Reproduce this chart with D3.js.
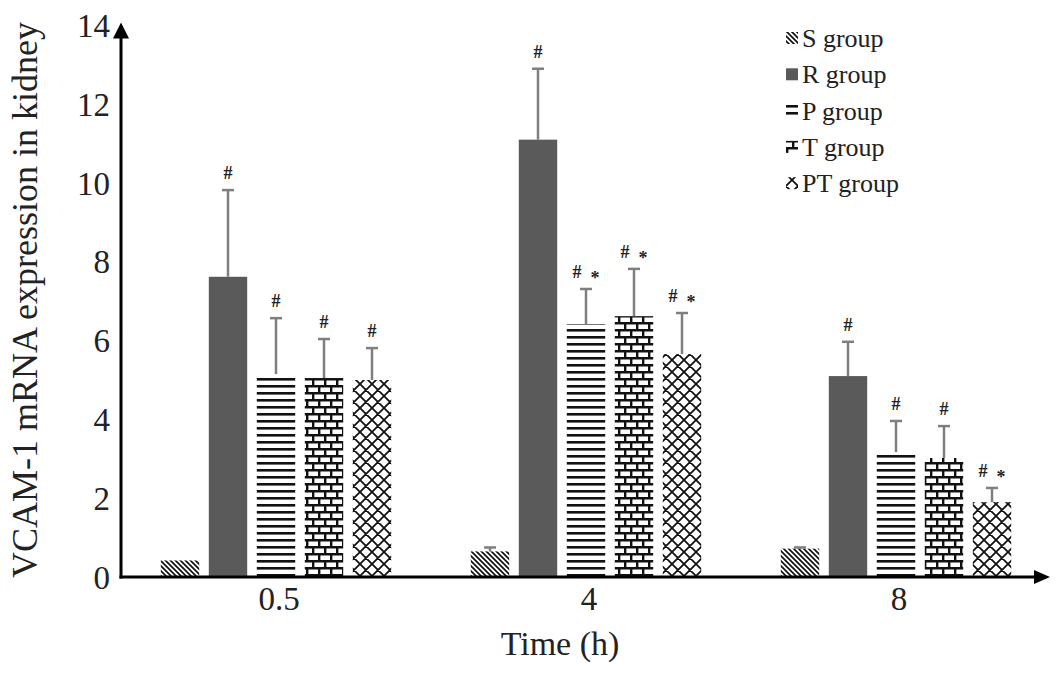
<!DOCTYPE html>
<html><head><meta charset="utf-8">
<script src="https://cdn.jsdelivr.net/npm/d3@7"></script>
<style>body{margin:0;background:#fff}svg{display:block}text{font-family:"Liberation Serif","Times New Roman",serif;fill:#222}</style>
</head><body><svg id="c" width="1063" height="681"></svg>
<script>
const times = ["0.5", "4", "8"];
const groups = ["S group", "R group", "P group", "T group", "PT group"];
const means = {
  "S group":  [0.42, 0.65, 0.72],
  "R group":  [7.62, 11.1, 5.1],
  "P group":  [5.15, 6.42, 3.17],
  "T group":  [5.05, 6.62, 3.02],
  "PT group": [5.0, 5.66, 1.90]
};
const sds = {
  "S group":  [0.0, 0.1, 0.03],
  "R group":  [2.2, 1.8, 0.87],
  "P group":  [1.42, 0.89, 0.79],
  "T group":  [0.99, 1.2, 0.81],
  "PT group": [0.81, 1.04, 0.36]
};
const marks = {
  "S group":  ["", "", ""],
  "R group":  ["#", "#", "#"],
  "P group":  ["#", "#*", "#"],
  "T group":  ["#", "#*", "#"],
  "PT group": ["#", "#*", "#*"]
};
const yTicks = [0, 2, 4, 6, 8, 10, 12, 14];

const svg = d3.select("#c");
const y = d3.scaleLinear().domain([0, 14]).range([577, 25.4]);
const x0 = d3.scaleBand().domain(times).range([121, 1051]);
const x1 = d3.scaleBand().domain(groups).range([35, 275]).paddingInner(0.2).paddingOuter(0.1);

const defs = svg.append("defs");
const pd = defs.append("pattern").attr("id","p-S").attr("patternUnits","userSpaceOnUse").attr("width",5).attr("height",5);
pd.append("rect").attr("width",5).attr("height",5).attr("fill","#fff");
pd.append("path").attr("d","M0,0L5,5M-1,4L1,6M4,-1L6,1").attr("stroke","#111").attr("stroke-width",1.7);
const ph = defs.append("pattern").attr("id","p-P").attr("patternUnits","userSpaceOnUse").attr("width",10).attr("height",7);
ph.append("rect").attr("width",10).attr("height",7).attr("fill","#fff");
ph.append("rect").attr("y",0).attr("width",10).attr("height",2.6).attr("fill","#111");
const pb = defs.append("pattern").attr("id","p-T").attr("patternUnits","userSpaceOnUse").attr("width",12).attr("height",14);
pb.append("rect").attr("width",12).attr("height",14).attr("fill","#fff");
pb.append("rect").attr("y",0).attr("width",12).attr("height",2.5).attr("fill","#111");
pb.append("rect").attr("y",7).attr("width",12).attr("height",2.5).attr("fill","#111");
pb.append("rect").attr("x",0).attr("y",0).attr("width",2.4).attr("height",7).attr("fill","#111");
pb.append("rect").attr("x",6).attr("y",7).attr("width",2.4).attr("height",7).attr("fill","#111");
const px = defs.append("pattern").attr("id","p-PT").attr("patternUnits","userSpaceOnUse").attr("width",12).attr("height",12);
px.append("rect").attr("width",12).attr("height",12).attr("fill","#fff");
px.append("path").attr("d","M0,0L12,12M12,0L0,12M-1,11L1,13M11,-1L13,1M-1,1L1,-1M11,13L13,11").attr("stroke","#111").attr("stroke-width",1.8);

const fills = {"S group":"url(#p-S)","R group":"#5a5a5a","P group":"url(#p-P)","T group":"url(#p-T)","PT group":"url(#p-PT)"};

const data = [];
times.forEach((t, i) => groups.forEach(g => data.push({t, g, v: means[g][i], sd: sds[g][i], m: marks[g][i]})));

const bx = d => x0(d.t) + x1(d.g);
const bw = x1.bandwidth();

svg.append("g").selectAll("rect").data(data).join("rect")
  .attr("x", bx).attr("y", d => y(d.v)).attr("width", bw)
  .attr("height", d => y(0) - y(d.v)).attr("fill", d => fills[d.g]);

const eb = svg.append("g").attr("stroke","#7f7f7f").attr("stroke-width",2.5);
data.filter(d => d.sd > 0).forEach(d => {
  const cx = bx(d) + bw/2;
  eb.append("line").attr("x1",cx).attr("x2",cx).attr("y1",y(d.v)).attr("y2",y(d.v+d.sd));
  eb.append("line").attr("x1",cx-6).attr("x2",cx+6).attr("y1",y(d.v+d.sd)).attr("y2",y(d.v+d.sd));
});

const mg = svg.append("g").attr("font-size",18).attr("font-weight","bold").attr("text-anchor","middle");
data.filter(d => d.m).forEach(d => {
  const cx = bx(d) + bw/2;
  const yy = y(d.v + d.sd) - 11;
  const chars = d.m.split("");
  chars.forEach((c, k) => {
    const off = chars.length === 1 ? 0 : (k === 0 ? -9 : 9);
    mg.append("text").attr("x", cx + off).attr("y", yy + (c === "*" ? 6 : 0)).attr("fill","#3a3a3a").text(c);
  });
});

// axes
const ax = svg.append("g");
ax.append("line").attr("x1",121).attr("x2",121).attr("y1",y(0)+1.5).attr("y2",y(14)+8).attr("stroke","#000").attr("stroke-width",3);
ax.append("path").attr("d",`M121,${y(14)-3}L113,${y(14)+13}L129,${y(14)+13}Z`).attr("fill","#000");
ax.append("line").attr("x1",119.5).attr("x2",1040).attr("y1",y(0)).attr("y2",y(0)).attr("stroke","#000").attr("stroke-width",3);
ax.append("path").attr("d",`M1050,${y(0)}L1034,${y(0)-7}L1034,${y(0)+7}Z`).attr("fill","#000");

ax.selectAll(".yt").data(yTicks).join("text").attr("class","yt")
  .attr("x",110).attr("y", d => y(d)).attr("dy","0.35em").attr("text-anchor","end")
  .attr("font-size",33).text(d => d);
ax.selectAll(".xt").data(times).join("text").attr("class","xt")
  .attr("x", d => x0(d) + x0.bandwidth()/2 + 3).attr("y", 610).attr("text-anchor","middle")
  .attr("font-size",33).text(d => d);

svg.append("text").attr("x",560).attr("y",655).attr("text-anchor","middle").attr("font-size",34).text("Time (h)");
svg.append("text").attr("transform","translate(37,300) rotate(-90)").attr("text-anchor","middle").attr("font-size",36).text("VCAM-1 mRNA expression in kidney");

// legend
const lg = svg.append("g");
groups.forEach((g, i) => {
  const cy = 38 + i * 36.3;
  lg.append("rect").attr("x",786).attr("y",cy-6).attr("width",12).attr("height",12).attr("fill",fills[g]);
  lg.append("text").attr("x",802).attr("y",cy).attr("dy","0.35em").attr("font-size",26).text(g);
});
</script></body></html>
